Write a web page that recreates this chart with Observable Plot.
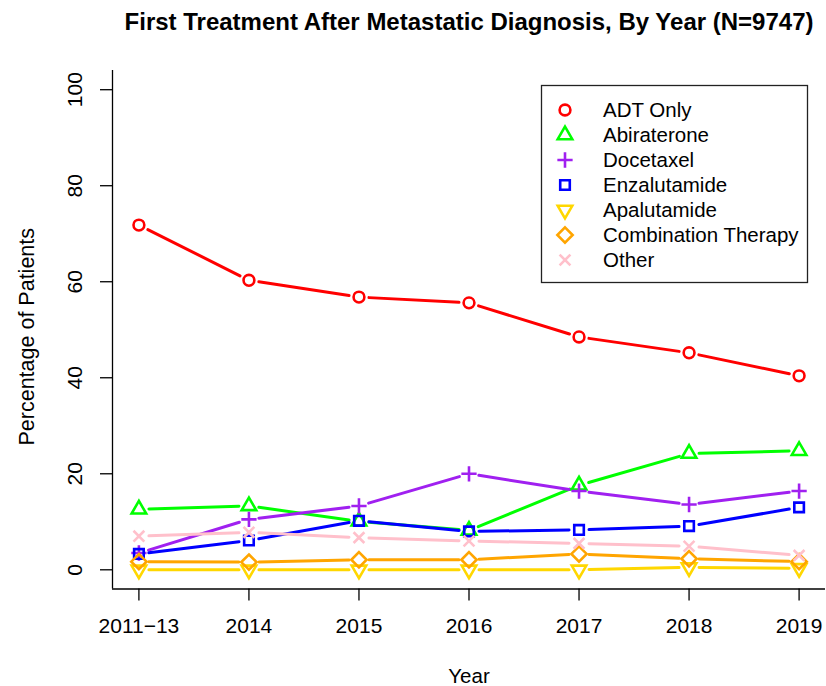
<!DOCTYPE html>
<html><head><meta charset="utf-8">
<script src="https://cdn.jsdelivr.net/npm/d3@7"></script>
<script src="https://cdn.jsdelivr.net/npm/@observablehq/plot@0.6"></script>
<style>
body{margin:0;background:#fff;font-family:"Liberation Sans",Arial,Helvetica,sans-serif;}
#wrap{position:relative;width:826px;height:686px;overflow:hidden;}
</style></head><body><div id="wrap"></div>
<script>
// ---- data ----
const titleText = "First Treatment After Metastatic Diagnosis, By Year (N=9747)";
const xLabel = "Year";
const yLabel = "Percentage of Patients";
const years = ["2011\u221213","2014","2015","2016","2017","2018","2019"];
const yTicks = [0,20,40,60,80,100];
const seriesNames = ["ADT Only","Abiraterone","Docetaxel","Enzalutamide","Apalutamide","Combination Therapy","Other"];
const adtOnly      = [71.8,60.3,56.8,55.6,48.5,45.2,40.4];
const abiraterone  = [12.6,13.3,10.1,8.2,17.6,24.2,24.8];
const docetaxel    = [3.5,10.5,13.3,20.0,16.4,13.6,16.4];
const enzalutamide = [3.3,6.1,10.2,8.0,8.3,9.1,13.0];
const apalutamide  = [0,0,0,0,0,0.5,0.3];
const combination  = [1.7,1.6,2.1,2.1,3.3,2.3,1.7];
const other        = [7.0,7.8,6.7,6.0,5.5,4.9,3.0];
const seriesValues = [adtOnly,abiraterone,docetaxel,enzalutamide,apalutamide,combination,other];
const colors = ["#FF0000","#00FF00","#A020F0","#0000FF","#FFD700","#FFA500","#FFC0CB"];

// ---- R-like symbols (pch 1,2,3,0,6,5,4) ----
const rad = s => Math.sqrt(s / Math.PI);
const symCircle = {draw(c,s){const r=rad(s); c.moveTo(r,0); c.arc(0,0,r,0,2*Math.PI);}};
const symTriUp = {draw(c,s){const r=rad(s),h=1.555*r,b=0.778*r,w=1.347*r; c.moveTo(0,-h); c.lineTo(w,b); c.lineTo(-w,b); c.closePath();}};
const symTriDown = {draw(c,s){const r=rad(s),h=1.555*r,b=0.778*r,w=1.347*r; c.moveTo(0,h); c.lineTo(w,-b); c.lineTo(-w,-b); c.closePath();}};
const symPlus = {draw(c,s){const a=1.414*rad(s); c.moveTo(-a,0); c.lineTo(a,0); c.moveTo(0,-a); c.lineTo(0,a);}};
const symSquare = {draw(c,s){const a=0.886*rad(s); c.moveTo(-a,-a); c.lineTo(a,-a); c.lineTo(a,a); c.lineTo(-a,a); c.closePath();}};
const symDiamond = {draw(c,s){const a=1.414*rad(s); c.moveTo(0,-a); c.lineTo(a,0); c.lineTo(0,a); c.lineTo(-a,0); c.closePath();}};
const symTimes = {draw(c,s){const a=rad(s); c.moveTo(-a,-a); c.lineTo(a,a); c.moveTo(-a,a); c.lineTo(a,-a);}};
const symbols = [symCircle,symTriUp,symPlus,symSquare,symTriDown,symDiamond,symTimes];
const R = 5.4;

// ---- tables ----
const points = [];
const segs = [];
seriesNames.forEach((name, k) => {
  seriesValues[k].forEach((v, i) => {
    points.push({series: name, k, x: i + 1, y: v});
    if (i < seriesValues[k].length - 1)
      segs.push({series: name, k, x1: i + 1, y1: v, x2: i + 2, y2: seriesValues[k][i + 1]});
  });
});

const xDomain = [0.76, 7.24];
const yDomain = [-4, 104];
const FONT = "'Liberation Sans', Arial, Helvetica, sans-serif";

const marks = [
  Plot.ruleY([yDomain[0]], {stroke: "#000", strokeWidth: 1.3}),
  Plot.ruleX([xDomain[0]], {stroke: "#000", strokeWidth: 1.3}),
  Plot.axisX({ticks: d3.range(1, years.length + 1), tickFormat: d => years[d - 1], tickSize: 12, tickPadding: 17, fontSize: 21, label: null, strokeWidth: 1.3}),
  Plot.axisY({ticks: yTicks, tickSize: 12, tickRotate: -90, textAnchor: "middle", lineAnchor: "middle", tickPadding: 25, fontSize: 21, label: null, strokeWidth: 1.3}),
];
seriesNames.forEach((name, k) => {
  marks.push(Plot.arrow(segs.filter(d => d.k === k), {
    x1: "x1", y1: "y1", x2: "x2", y2: "y2", bend: 0, headLength: 0, inset: 10,
    stroke: colors[k], strokeWidth: 3, strokeLinecap: "round"
  }));
});
seriesNames.forEach((name, k) => {
  marks.push(Plot.dot(points.filter(d => d.k === k), {
    x: "x", y: "y", symbol: symbols[k], r: R, fill: "none", stroke: colors[k], strokeWidth: 2.6
  }));
});
marks.push(
  Plot.text([titleText], {text: d => d, frameAnchor: "top", lineAnchor: "middle", textAnchor: "middle", dy: -48, fontSize: 24, fontWeight: "bold"}),
  Plot.text([xLabel], {text: d => d, frameAnchor: "bottom", lineAnchor: "middle", textAnchor: "middle", dy: 87, fontSize: 20.5}),
  Plot.text([yLabel], {text: d => d, frameAnchor: "left", lineAnchor: "middle", textAnchor: "middle", dx: -85, dy: 7, rotate: -90, fontSize: 21.5})
);

const chart = Plot.plot({
  width: 826, height: 686,
  marginLeft: 112, marginRight: 1, marginTop: 70, marginBottom: 97.5,
  x: {domain: xDomain},
  y: {domain: yDomain},
  style: {fontFamily: FONT, fontSize: "20px", background: "white", color: "black"},
  marks
});
const wrap = document.getElementById("wrap");
wrap.appendChild(chart);

// ---- legend ----
const lg = d3.select(wrap).append("svg")
  .attr("width", 826).attr("height", 686)
  .style("position", "absolute").style("left", "0px").style("top", "0px")
  .style("font-family", FONT);
const box = {x: 541.5, y: 85.5, w: 266, h: 197, symX: 565, textX: 603, row0: 110, step: 25};
lg.append("rect").attr("x", box.x).attr("y", box.y).attr("width", box.w).attr("height", box.h)
  .attr("fill", "white").attr("stroke", "#222").attr("stroke-width", 1.3);
seriesNames.forEach((name, k) => {
  const cy = box.row0 + k * box.step;
  const p = d3.path();
  symbols[k].draw(p, Math.PI * R * R);
  lg.append("path").attr("d", p.toString()).attr("transform", `translate(${box.symX},${cy})`)
    .attr("fill", "none").attr("stroke", colors[k]).attr("stroke-width", 2.6);
  lg.append("text").attr("x", box.textX).attr("y", cy).attr("dy", "0.35em")
    .attr("font-size", 20.5).attr("fill", "black").text(name);
});
</script>
</body></html>
